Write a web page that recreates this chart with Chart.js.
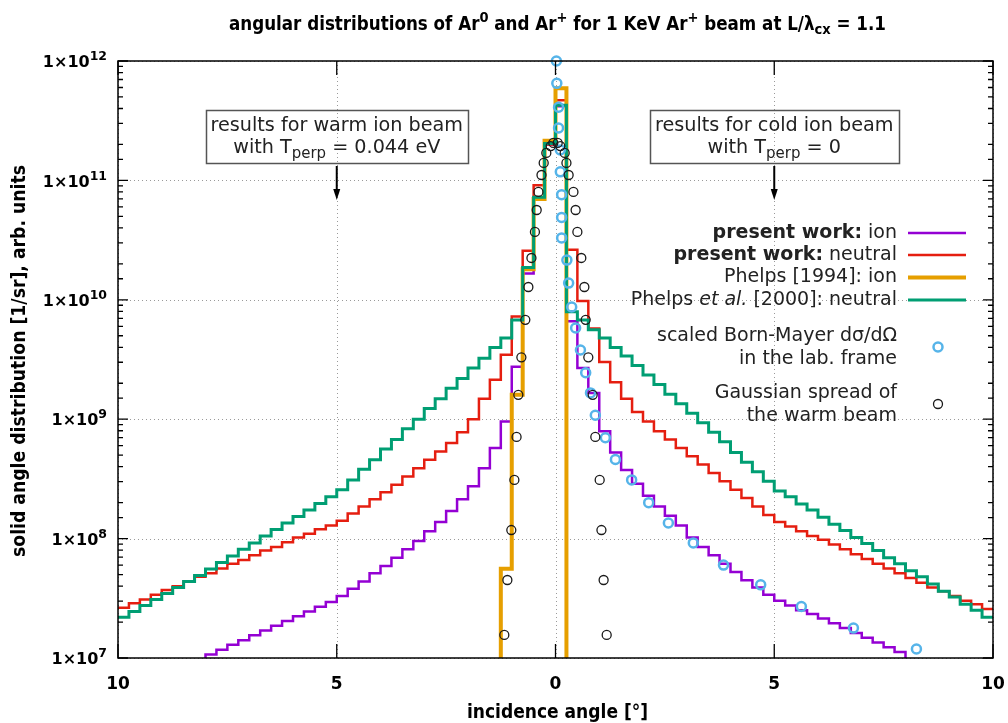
<!DOCTYPE html>
<html lang="en">
<head>
<meta charset="UTF-8">
<title>Angular distributions of Ar0 and Ar+</title>
<style>
  body { margin: 0; background: #fff; }
  #wrap { width: 1008px; height: 723px; }
</style>
</head>
<body>
<div id="wrap"><canvas id="angChart" width="1008" height="723"></canvas></div>
<script src="https://cdn.jsdelivr.net/npm/chart.js"></script>
<script>
// Histogram bins: 0.25 deg wide from -10 to +10 deg.
// Negative angles = warm ion beam, positive angles = cold ion beam.
const edgeFirst = -10;
const edgeStep = 0.25;

// present work: ion
const ionPresent = [
  null, null, null, null, null, null, null, 8.5e6,
  1.07e7, 1.17e7, 1.29e7, 1.41e7, 1.55e7, 1.70e7, 1.86e7, 2.04e7,
  2.24e7, 2.45e7, 2.69e7, 2.95e7, 3.31e7, 3.80e7, 4.37e7, 5.13e7,
  5.89e7, 6.92e7, 8.13e7, 9.55e7, 1.15e8, 1.38e8, 1.70e8, 2.14e8,
  2.75e8, 3.89e8, 5.75e8, 9.55e8, 2.75e9, 1.66e10, 7.08e10, 2.00e11,
  4.17e11, 6.61e9, 2.69e9, 1.66e9, 7.94e8, 5.25e8, 3.76e8, 2.88e8,
  2.29e8, 1.86e8, 1.55e8, 1.29e8, 1.02e8, 8.51e7, 7.24e7, 6.17e7,
  5.25e7, 4.47e7, 3.89e7, 3.39e7, 3.02e7, 2.75e7, 2.51e7, 2.34e7,
  2.14e7, 1.95e7, 1.78e7, 1.62e7, 1.48e7, 1.35e7, 1.23e7, 1.12e7,
  8.5e6, null, null, null, null, null, null, null
];

// present work: neutral
const neutralPresent = [
  2.63e7, 2.88e7, 3.09e7, 3.39e7, 3.72e7, 3.98e7, 4.37e7, 4.79e7,
  5.13e7, 5.62e7, 6.17e7, 6.61e7, 7.24e7, 7.94e7, 8.51e7, 9.33e7,
  1.02e8, 1.10e8, 1.20e8, 1.29e8, 1.41e8, 1.62e8, 1.86e8, 2.14e8,
  2.45e8, 2.82e8, 3.31e8, 3.89e8, 4.57e8, 5.37e8, 6.31e8, 7.76e8,
  1.00e9, 1.48e9, 2.14e9, 3.47e9, 7.24e9, 2.57e10, 9.12e10, 2.00e11,
  4.68e11, 2.63e10, 9.77e9, 5.75e9, 3.02e9, 2.04e9, 1.48e9, 1.15e9,
  9.55e8, 7.94e8, 6.76e8, 5.75e8, 4.90e8, 4.17e8, 3.55e8, 3.02e8,
  2.57e8, 2.19e8, 1.86e8, 1.58e8, 1.38e8, 1.26e8, 1.15e8, 1.05e8,
  9.77e7, 8.91e7, 8.13e7, 7.41e7, 6.76e7, 6.17e7, 5.62e7, 5.13e7,
  4.68e7, 4.27e7, 3.89e7, 3.63e7, 3.31e7, 3.02e7, 2.82e7, 2.57e7
];

// Phelps [1994]: ion
const ionPhelps = [
  null, null, null, null, null, null, null, null,
  null, null, null, null, null, null, null, null,
  null, null, null, null, null, null, null, null,
  null, null, null, null, null, null, null, null,
  null, null, 8.5e6, 5.6e7, 1.6e9, 1.8e10, 7.0e10, 2.15e11,
  5.9e11, 8.5e6, null, null, null, null, null, null,
  null, null, null, null, null, null, null, null,
  null, null, null, null, null, null, null, null,
  null, null, null, null, null, null, null, null,
  null, null, null, null, null, null, null, null
];

// Phelps et al. [2000]: neutral
const neutralPhelps = [
  2.19e7, 2.45e7, 2.75e7, 3.09e7, 3.47e7, 3.89e7, 4.37e7, 4.90e7,
  5.56e7, 6.31e7, 7.16e7, 8.13e7, 9.20e7, 1.05e8, 1.19e8, 1.35e8,
  1.53e8, 1.74e8, 1.97e8, 2.24e8, 2.57e8, 3.09e8, 3.80e8, 4.57e8,
  5.62e8, 6.76e8, 8.32e8, 1.00e9, 1.23e9, 1.48e9, 1.82e9, 2.19e9,
  2.69e9, 3.24e9, 3.98e9, 4.79e9, 6.76e9, 1.86e10, 7.24e10, 2.04e11,
  4.27e11, 7.94e9, 6.76e9, 5.62e9, 4.79e9, 3.98e9, 3.39e9, 2.82e9,
  2.34e9, 1.95e9, 1.62e9, 1.35e9, 1.12e9, 9.33e8, 7.76e8, 6.46e8,
  5.25e8, 4.37e8, 3.63e8, 3.02e8, 2.51e8, 2.24e8, 1.95e8, 1.74e8,
  1.51e8, 1.32e8, 1.17e8, 1.02e8, 9.12e7, 7.94e7, 6.92e7, 6.17e7,
  5.37e7, 4.79e7, 4.17e7, 3.63e7, 3.24e7, 2.82e7, 2.51e7, 2.19e7
];

// scaled Born-Mayer dsigma/dOmega in the lab frame
const bornAngle = [
  0.02, 0.03, 0.07, 0.07, 0.11, 0.11, 0.14, 0.14, 0.14, 0.26, 0.30,
  0.37, 0.46, 0.57, 0.69, 0.80, 0.91, 1.14, 1.37, 1.74, 2.13, 2.58,
  3.15, 3.84, 4.69, 5.62, 6.81, 8.25
];
const bornValue = [
  1.0e12, 6.5e11, 4.1e11, 2.75e11, 1.8e11, 1.18e11, 7.6e10, 4.9e10, 3.3e10, 2.15e10, 1.38e10,
  8.7e9, 5.8e9, 3.8e9, 2.45e9, 1.66e9, 1.08e9, 7.0e8, 4.6e8, 3.1e8, 2.0e8, 1.35e8,
  9.2e7, 6.0e7, 4.1e7, 2.7e7, 1.78e7, 1.19e7
];

// Gaussian spread of the warm beam
const gaussAngle = [
  -1.17, -1.10, -1.01, -0.94, -0.89, -0.85, -0.78, -0.69, -0.62, -0.55, -0.47, -0.43,
  -0.39, -0.32, -0.27, -0.21, -0.11, -0.05,
  0.05, 0.11, 0.21, 0.25, 0.30, 0.41, 0.46, 0.50, 0.59, 0.66, 0.69, 0.75,
  0.85, 0.91, 1.01, 1.05, 1.10, 1.17
];
const gaussValue = [
  1.56e7, 4.5e7, 1.18e8, 3.1e8, 7.1e8, 1.6e9, 3.3e9, 6.8e9, 1.28e10, 2.24e10, 3.7e10, 5.65e10,
  8.0e10, 1.11e11, 1.4e11, 1.7e11, 1.94e11, 2.06e11,
  2.06e11, 1.94e11, 1.7e11, 1.4e11, 1.11e11, 8.0e10, 5.65e10, 3.7e10, 2.24e10, 1.28e10, 6.8e9, 3.3e9,
  1.6e9, 7.1e8, 3.1e8, 1.18e8, 4.5e7, 1.56e7
];

const xTickValues = [-10, -5, 0, 5, 10];

const SANS = "'DejaVu Sans', sans-serif";
const COND = "'DejaVu Sans Condensed', 'DejaVu Sans', sans-serif";
const COL = { ion: '#9400d3', neutral: '#e51e10', phelpsIon: '#e69f00', phelpsNeutral: '#009e73', born: '#56b4e9', gauss: '#1a1a1a' };

// bin values -> stepped outline points (left edge of each bin + closing right edge)
function stepPoints(values) {
  const pts = values.map((v, i) => ({ x: edgeFirst + i * edgeStep, y: v }));
  pts.push({ x: edgeFirst + values.length * edgeStep, y: values[values.length - 1] });
  return pts;
}
function pairPoints(xs, ys) {
  return xs.map((x, i) => ({ x: x, y: ys[i] }));
}
const isDecade = v => Math.abs(Math.log10(v) - Math.round(Math.log10(v))) < 1e-6;

// text made of pieces; flags: b bold, i italic, ^ superscript, _ subscript
function pieceFont(flags, size, family, bold) {
  const small = flags.includes('^') || flags.includes('_');
  const wt = (bold || flags.includes('b')) ? 'bold ' : '';
  const st = flags.includes('i') ? 'italic ' : '';
  return st + wt + (small ? size * 0.78 : size) + 'px ' + family;
}
function richWidth(c, parts, size, family, bold) {
  let w = 0;
  parts.forEach(p => { c.font = pieceFont(p[1], size, family, bold); w += c.measureText(p[0]).width; });
  return w;
}
function richText(c, parts, x, y, size, family, bold, align) {
  const total = richWidth(c, parts, size, family, bold);
  let cx = align === 'right' ? x - total : (align === 'center' ? x - total / 2 : x);
  c.textAlign = 'left';
  c.textBaseline = 'middle';
  parts.forEach(p => {
    c.font = pieceFont(p[1], size, family, bold);
    let dy = 0;
    if (p[1].includes('^')) dy = -size * 0.38;
    if (p[1].includes('_')) dy = size * 0.3;
    c.fillText(p[0], cx, y + dy);
    cx += c.measureText(p[0]).width;
  });
  return total;
}

const keyRows = [
  { parts: [['present work:', 'b'], [' ion', '']], y: 233, line: COL.ion, lw: 2.5 },
  { parts: [['present work:', 'b'], [' neutral', '']], y: 255, line: COL.neutral, lw: 2.5 },
  { parts: [['Phelps [1994]: ion', '']], y: 277.5, line: COL.phelpsIon, lw: 4 },
  { parts: [['Phelps ', ''], ['et al.', 'i'], [' [2000]: neutral', '']], y: 300, line: COL.phelpsNeutral, lw: 3 },
  { parts: [['scaled Born-Mayer d\u03c3/d\u03a9', '']], y: 336.5 },
  { parts: [['in the lab. frame', '']], y: 359.5, mark: COL.born, mw: 2.5, my: 347 },
  { parts: [['Gaussian spread of', '']], y: 393 },
  { parts: [['the warm beam', '']], y: 416, mark: COL.gauss, mw: 1.3, my: 404 }
];

const notes = [
  { at: -5, lines: [[['results for warm ion beam', '']], [['with T', ''], ['perp', '_'], [' = 0.044 eV', '']]] },
  { at: 5, lines: [[['results for cold ion beam', '']], [['with T', ''], ['perp', '_'], [' = 0', '']]] }
];

const framePlugin = {
  id: 'frame',
  beforeDatasetsDraw(chart) {
    const c = chart.ctx, a = chart.chartArea, xs = chart.scales.x, ys = chart.scales.y;
    c.save();
    c.strokeStyle = '#9a9a9a';
    c.lineWidth = 1;
    c.setLineDash([1, 3]);
    ys.ticks.forEach(t => {
      if (!isDecade(t.value)) return;
      const y = Math.round(ys.getPixelForValue(t.value)) + 0.5;
      c.beginPath(); c.moveTo(a.left, y); c.lineTo(a.right, y); c.stroke();
    });
    xTickValues.forEach(v => {
      const x = Math.round(xs.getPixelForValue(v)) + 0.5;
      c.beginPath(); c.moveTo(x, a.top); c.lineTo(x, a.bottom); c.stroke();
    });
    c.restore();
  },
  afterDatasetsDraw(chart) {
    const c = chart.ctx, a = chart.chartArea, xs = chart.scales.x, ys = chart.scales.y;
    c.save();
    // frame and inward ticks
    c.strokeStyle = '#000';
    c.lineWidth = 1.5;
    c.strokeRect(a.left, a.top, a.right - a.left, a.bottom - a.top);
    c.lineWidth = 1.3;
    ys.ticks.forEach(t => {
      const y = ys.getPixelForValue(t.value);
      const len = isDecade(t.value) ? 10 : 5;
      c.beginPath();
      c.moveTo(a.left, y); c.lineTo(a.left + len, y);
      c.moveTo(a.right, y); c.lineTo(a.right - len, y);
      c.stroke();
    });
    c.fillStyle = '#000';
    xTickValues.forEach(v => {
      const x = xs.getPixelForValue(v);
      c.beginPath();
      c.moveTo(x, a.bottom); c.lineTo(x, a.bottom - 14);
      c.moveTo(x, a.top); c.lineTo(x, a.top + 14);
      c.stroke();
      richText(c, [[String(Math.abs(v)), '']], x, a.bottom + 27, 17, SANS, true, 'center');
    });

    // y tick labels 1x10^n
    ys.ticks.forEach(t => {
      if (!isDecade(t.value)) return;
      const e = Math.round(Math.log10(t.value));
      richText(c, [['1\u00d710', ''], [String(e), '^']], 107, ys.getPixelForValue(t.value) + 2, 16, SANS, true, 'right');
    });

    // key
    c.fillStyle = '#222';
    keyRows.forEach(r => {
      richText(c, r.parts, 897, r.y, 19, SANS, false, 'right');
      if (r.line) {
        c.strokeStyle = r.line; c.lineWidth = r.lw;
        c.beginPath(); c.moveTo(908, r.y); c.lineTo(966, r.y); c.stroke();
      }
      if (r.mark) {
        c.strokeStyle = r.mark; c.lineWidth = r.mw;
        c.beginPath(); c.arc(938, r.my, 4.5, 0, Math.PI * 2); c.stroke();
      }
    });

    // boxed notes with arrows
    notes.forEach(n => {
      const x = xs.getPixelForValue(n.at);
      const w = Math.max(...n.lines.map(l => richWidth(c, l, 19.2, SANS, false))) + 10;
      c.strokeStyle = '#555'; c.lineWidth = 1.5;
      c.strokeRect(Math.round(x - w / 2) + 0.5, 110.5, Math.round(w), 53);
      c.fillStyle = '#222';
      richText(c, n.lines[0], x, 126, 19.2, SANS, false, 'center');
      richText(c, n.lines[1], x, 148, 19.2, SANS, false, 'center');
      c.strokeStyle = '#000'; c.lineWidth = 2;
      c.beginPath(); c.moveTo(x, 166); c.lineTo(x, 192); c.stroke();
      c.fillStyle = '#000';
      c.beginPath(); c.moveTo(x - 3.5, 189); c.lineTo(x + 3.5, 189); c.lineTo(x, 200); c.closePath(); c.fill();
    });
    c.restore();
  },
  afterDraw(chart) {
    const c = chart.ctx, a = chart.chartArea;
    const mid = (a.left + a.right) / 2;
    c.save();
    c.fillStyle = '#000';
    richText(c, [['angular distributions of Ar', ''], ['0', '^'], [' and Ar', ''], ['+', '^'],
                 [' for 1 KeV Ar', ''], ['+', '^'], [' beam at L/\u03bb', ''], ['cx', '_'], [' = 1.1', '']],
             mid + 2, 25, 18.6, COND, true, 'center');
    richText(c, [['incidence angle [\u00b0]', '']], mid + 2, 713, 19, COND, true, 'center');
    c.translate(20, 361);
    c.rotate(-Math.PI / 2);
    richText(c, [['solid angle distribution [1/sr], arb. units', '']], 0, 0, 19.2, COND, true, 'center');
    c.restore();
  }
};

const stepStyle = { stepped: true, pointRadius: 0, fill: false, tension: 0, borderJoinStyle: 'miter', borderCapStyle: 'butt', spanGaps: false };

const ctx = document.getElementById('angChart').getContext('2d');
const chart = new Chart(ctx, {
  type: 'line',
  data: {
    datasets: [
      Object.assign({ label: 'present work: ion', data: stepPoints(ionPresent), borderColor: COL.ion, borderWidth: 2.5, order: 5 }, stepStyle),
      Object.assign({ label: 'present work: neutral', data: stepPoints(neutralPresent), borderColor: COL.neutral, borderWidth: 2.5, order: 4 }, stepStyle),
      Object.assign({ label: 'Phelps [1994]: ion', data: stepPoints(ionPhelps), borderColor: COL.phelpsIon, borderWidth: 4, order: 3 }, stepStyle),
      Object.assign({ label: 'Phelps et al. [2000]: neutral', data: stepPoints(neutralPhelps), borderColor: COL.phelpsNeutral, borderWidth: 3, order: 2 }, stepStyle),
      { label: 'scaled Born-Mayer', data: pairPoints(bornAngle, bornValue), showLine: false, pointRadius: 4.5,
        pointBorderWidth: 2.5, pointBorderColor: COL.born, pointBackgroundColor: 'rgba(0,0,0,0)', clip: false, order: 1 },
      { label: 'Gaussian spread', data: pairPoints(gaussAngle, gaussValue), showLine: false, pointRadius: 4.5,
        pointBorderWidth: 1.3, pointBorderColor: COL.gauss, pointBackgroundColor: 'rgba(0,0,0,0)', clip: false, order: 0 }
    ]
  },
  options: {
    responsive: false,
    animation: false,
    events: [],
    layout: { padding: { top: 61, right: 15, left: 0, bottom: 0 } },
    plugins: { legend: { display: false }, tooltip: { enabled: false } },
    scales: {
      x: {
        type: 'linear', min: -10, max: 10,
        grid: { display: false, drawTicks: false },
        border: { display: false },
        ticks: { display: false },
        afterFit: s => { s.height = 65; }
      },
      y: {
        type: 'logarithmic', min: 1e7, max: 1e12,
        grid: { display: false, drawTicks: false },
        border: { display: false },
        ticks: { display: false },
        afterFit: s => { s.width = 118; }
      }
    }
  },
  plugins: [framePlugin]
});
</script>
</body>
</html>
